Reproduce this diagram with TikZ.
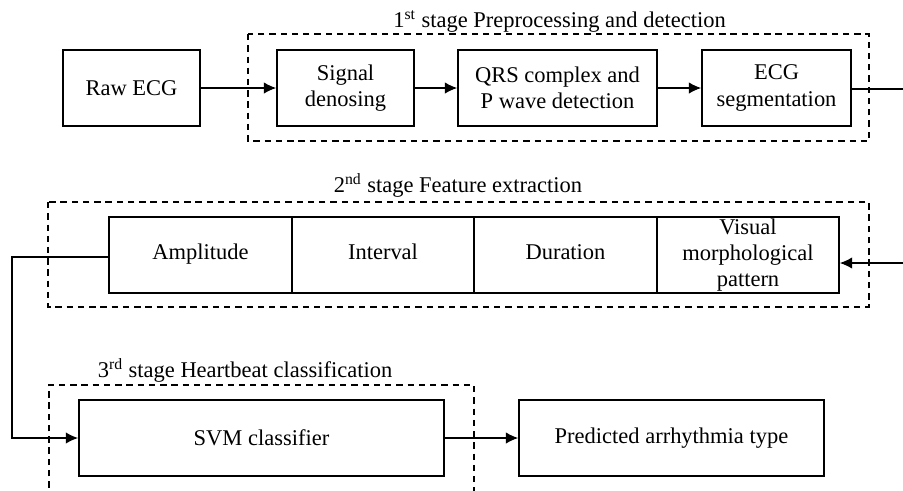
\documentclass[tikz,border=0pt]{standalone}
\usepackage{fontspec}
\setmainfont{Liberation Serif}
\usetikzlibrary{arrows.meta,positioning}
\begin{document}
\begin{tikzpicture}[x=1cm,y=1cm,
  font=\fontsize{12.8}{15}\selectfont,
  box/.style={draw, line width=1pt, align=center, minimum height=1.52cm, inner sep=2pt},
  cell/.style={box, text height=1.6ex, text depth=0.5ex},
  frame/.style={draw, line width=0.9pt, dash pattern=on 3.6pt off 2.8pt},
  link/.style={line width=0.6pt, -{Latex[length=7pt,width=6.5pt]}}]
\useasboundingbox (0,0) rectangle (18.06,-9.8);
\clip (0,0) rectangle (18.06,-9.8);
\node[box, minimum width=2.74cm] (raw) at (2.63,-1.76) {Raw ECG};
\node[box, minimum width=2.74cm] (denoise) at (6.91,-1.76) {Signal\\ denosing};
\node[box, minimum width=3.98cm] (qrs) at (11.15,-1.76) {QRS complex and\\ P wave detection};
\node[box, minimum width=2.98cm] (seg) at (15.53,-1.76) {ECG\\ segmentation};
\draw[frame] (4.96,-0.68) rectangle (17.38,-2.82);
\node[anchor=base] (title1) at (11.19,-0.54) {1\textsuperscript{st} stage Preprocessing and detection};
\coordinate (segout) at (18.5,-1.78);
\draw[link] (raw) -- (denoise);
\draw[link] (denoise) -- (qrs);
\draw[link] (qrs) -- (seg);
\draw[line width=1pt] (seg.east |- segout) -- (segout);
\node[cell, minimum width=3.66cm] (amp) at (4.01,-5.10) {Amplitude};
\node[cell, minimum width=3.64cm, right=-1pt of amp] (interval) {Interval};
\node[cell, minimum width=3.66cm, right=-1pt of interval] (duration) {Duration};
\node[box, minimum width=3.64cm, inner ysep=0pt, right=-1pt of duration] (visual) {Visual\\ morphological\\ pattern};
\draw[frame] (0.96,-4.04) rectangle (17.38,-6.14);
\node[anchor=base] (title2) at (9.16,-3.84) {2\textsuperscript{nd} stage Feature extraction};
\coordinate (visin) at (18.5,-5.26);
\draw[link] (visin) -- (visual.east |- visin);
\node[box, minimum width=7.30cm] (svm) at (5.23,-8.76) {SVM classifier};
\node[box, minimum width=6.10cm] (pred) at (13.43,-8.76) {Predicted arrhythmia type};
\draw[frame] (0.98,-10.2) -- (0.98,-7.70) -- (9.48,-7.70) -- (9.48,-10.2);
\node[anchor=base] (title3) at (4.9,-7.54) {3\textsuperscript{rd} stage Heartbeat classification};
\coordinate (bend) at (0.24,-5.14);
\draw[link, line width=0.8pt] ([yshift=-0.04cm]amp.west) -- (bend) |- (svm.west);
\draw[link] (svm) -- (pred);
\end{tikzpicture}
\end{document}
